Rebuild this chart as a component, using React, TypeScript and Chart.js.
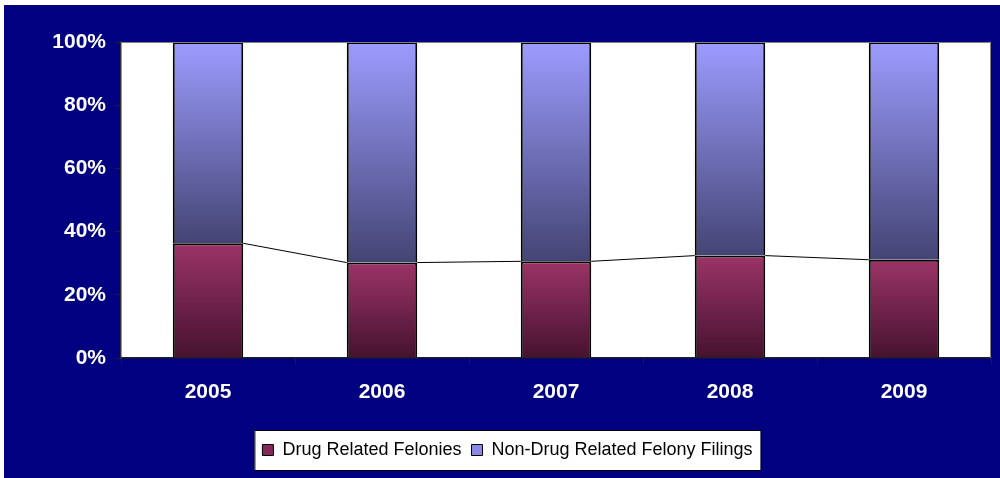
import React, { useEffect, useRef } from "react";
import { Chart, registerables } from "chart.js";

Chart.register(...registerables);

const years = ["2005", "2006", "2007", "2008", "2009"];
const drugRelated = [36.3, 30.2, 30.6, 32.4, 31.1];
const nonDrugRelated = [63.7, 69.8, 69.4, 67.6, 68.9];
const yTickValues = [0, 20, 40, 60, 80, 100];
const seriesNames = ["Drug Related Felonies", "Non-Drug Related Felony Filings"];
const legendColors = ["#85295a", "#8a8ae6"];

const FONT = '"Liberation Sans", Arial, sans-serif';

const plotDecor = {
  id: "plotDecor",
  beforeDraw(chart: any) {
    const { ctx, chartArea } = chart;
    ctx.save();
    ctx.fillStyle = "#ffffff";
    ctx.fillRect(chartArea.left, chartArea.top, chartArea.right - chartArea.left, chartArea.bottom - chartArea.top);
    const lg = chart.legend;
    if (lg && lg.legendHitBoxes && lg.legendHitBoxes.length) {
      const hb = lg.legendHitBoxes;
      const left = hb[0].left - 8;
      const last = hb[hb.length - 1];
      const right = last.left + last.width + 8;
      const top = hb[0].top - 11;
      const bottom = hb[0].top + hb[0].height + 11;
      ctx.fillStyle = "#ffffff";
      ctx.fillRect(left, top, right - left, bottom - top);
      ctx.strokeStyle = "#000000";
      ctx.lineWidth = 1;
      ctx.strokeRect(left + 0.5, top + 0.5, right - left, bottom - top);
    }
    ctx.restore();
  },
  afterDatasetsDraw(chart: any) {
    const { ctx, chartArea } = chart;
    const meta = chart.getDatasetMeta(0);
    ctx.save();
    ctx.strokeStyle = "#000000";
    ctx.lineWidth = 1;
    for (let i = 0; i < meta.data.length - 1; i++) {
      const a = meta.data[i];
      const b = meta.data[i + 1];
      ctx.beginPath();
      ctx.moveTo(a.x + a.width / 2, a.y);
      ctx.lineTo(b.x - b.width / 2, b.y);
      ctx.stroke();
    }
    ctx.strokeStyle = "#808080";
    ctx.beginPath();
    ctx.moveTo(chartArea.left, chartArea.top + 0.5);
    ctx.lineTo(chartArea.right - 0.5, chartArea.top + 0.5);
    ctx.lineTo(chartArea.right - 0.5, chartArea.bottom);
    ctx.stroke();
    ctx.restore();
  },
};

function segGradient(ctx: any, fromVal: number, toVal: number, topColor: string, bottomColor: string) {
  const chart = ctx.chart;
  const y = chart.scales && chart.scales.y;
  if (!chart.chartArea || !y) return topColor;
  const yTop = y.getPixelForValue(toVal);
  const yBot = y.getPixelForValue(fromVal);
  if (!isFinite(yTop) || !isFinite(yBot)) return topColor;
  const g = chart.ctx.createLinearGradient(0, yTop, 0, yBot);
  g.addColorStop(0, topColor);
  g.addColorStop(1, bottomColor);
  return g;
}

export default function App() {
  const ref = useRef<HTMLCanvasElement>(null);
  useEffect(() => {
    if (!ref.current) return;
    const chart = new Chart(ref.current, {
      type: "bar",
      data: {
        labels: years,
        datasets: [
          {
            label: seriesNames[0],
            data: drugRelated,
            backgroundColor: (c: any) =>
              c.type === "data"
                ? segGradient(c, 0, drugRelated[c.dataIndex], "#9b3466", "#461230")
                : legendColors[0],
            borderColor: "#000000",
            borderWidth: 2,
            barPercentage: 0.405,
            categoryPercentage: 1,
          },
          {
            label: seriesNames[1],
            data: nonDrugRelated,
            backgroundColor: (c: any) =>
              c.type === "data"
                ? segGradient(
                    c,
                    drugRelated[c.dataIndex],
                    drugRelated[c.dataIndex] + nonDrugRelated[c.dataIndex],
                    "#9c9cff",
                    "#444474"
                  )
                : legendColors[1],
            borderColor: "#000000",
            borderWidth: 2,
            barPercentage: 0.405,
            categoryPercentage: 1,
          },
        ],
      },
      options: {
        animation: false,
        responsive: false,
        devicePixelRatio: 1,
        layout: { padding: { top: 37, right: 9, left: 20, bottom: 9 } },
        plugins: {
          tooltip: { enabled: false },
          legend: {
            position: "bottom",
            labels: {
              color: "#000000",
              font: { family: FONT, size: 18 },
              boxWidth: 11,
              boxHeight: 11,
              padding: 10,
              generateLabels: () =>
                seriesNames.map((name, i) => ({
                  text: name,
                  fillStyle: legendColors[i],
                  strokeStyle: "#000000",
                  lineWidth: 1,
                  fontColor: "#000000",
                  hidden: false,
                  datasetIndex: i,
                })),
            },
          },
        },
        scales: {
          x: {
            stacked: true,
            grid: {
              offset: true,
              drawOnChartArea: false,
              drawTicks: true,
              tickLength: 6,
              color: "#202020",
            },
            border: { display: true, color: "#202020", width: 1.5 },
            ticks: {
              color: "#ffffff",
              padding: 16,
              font: { family: FONT, size: 21, weight: "bold" },
            },
            afterFit: (s: any) => {
              s.height = 73;
            },
          },
          y: {
            stacked: true,
            min: 0,
            max: 100,
            afterBuildTicks: (s: any) => {
              s.ticks = yTickValues.map((v) => ({ value: v }));
            },
            grid: {
              drawOnChartArea: false,
              drawTicks: true,
              tickLength: 6,
              color: "#202020",
            },
            border: { display: true, color: "#303030", width: 1.5 },
            ticks: {
              color: "#ffffff",
              padding: 9,
              font: { family: FONT, size: 21, weight: "bold" },
              callback: (v: any) => v + "%",
            },
            afterFit: (s: any) => {
              s.width = 97;
            },
          },
        },
      },
      plugins: [plotDecor],
    } as any);
    return () => chart.destroy();
  }, []);
  return (
    <div style={{ position: "absolute", left: 4, top: 5, width: 996, height: 473, background: "#000080" }}>
      <canvas ref={ref} width={996} height={473} style={{ display: "block" }} />
    </div>
  );
}
